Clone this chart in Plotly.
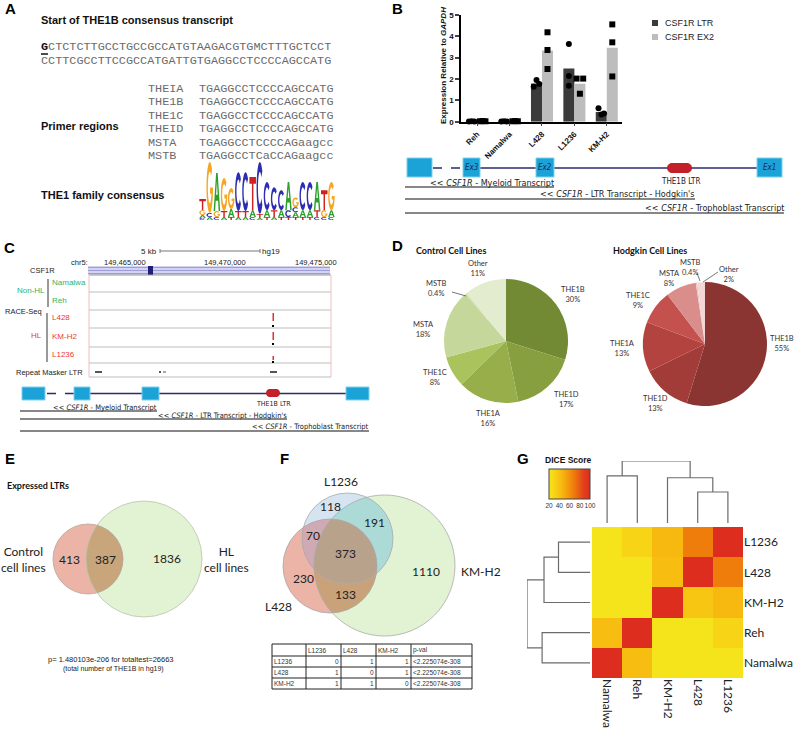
import numpy as np
import plotly.graph_objects as go

W, H = 798, 732
def X(p): return p / W
def Y(p): return 1 - p / H

SANS = "Liberation Sans, Arial, sans-serif"
MONO = "Liberation Mono, Courier New, monospace"
CAL = "Lato, Open Sans, sans-serif"
NARROW = "Liberation Sans Narrow, DejaVu Sans Condensed, sans-serif"

# ======================= DATA =======================
# Panel A
transcript_first = "G"
transcript_rest1 = "CTCTCTTGCCTGCCGCCATGTAAGACGTGMCTTTGCTCCT"
transcript_line2 = "CCTTCGCCTTCCGCCATGATTGTGAGGCCTCCCCAGCCATG"
primer_names = ["THEIA", "THE1B", "THE1C", "THEID", "MSTA", "MSTB"]
primer_seqs = ["TGAGGCCTCCCCAGCCATG", "TGAGGCCTCCCCAGCCATG", "TGAGGCCTCCCCAGCCATG",
               "TGAGGCCTCCCCAGCCATG", "TGAGGCCTCCCCAGaagcc", "TGAGGCCTCaCCAGaagcc"]
# sequence logo: each column bottom -> top, (letter, bits)
logo_columns = [
    [("C", 0.07), ("A", 0.10), ("G", 0.17), ("T", 0.38)],
    [("A", 0.10), ("C", 0.14), ("G", 1.76)],
    [("C", 0.10), ("G", 0.21), ("A", 1.31)],
    [("A", 0.10), ("T", 0.21), ("G", 1.14)],
    [("T", 0.10), ("A", 0.28), ("G", 0.72)],
    [("A", 0.10), ("T", 0.21), ("C", 1.34)],
    [("A", 0.10), ("T", 0.21), ("C", 1.34)],
    [("C", 0.10), ("A", 0.24), ("T", 1.14)],
    [("A", 0.07), ("T", 0.14), ("C", 1.79)],
    [("T", 0.10), ("A", 0.24), ("C", 0.97)],
    [("A", 0.10), ("T", 0.24), ("C", 0.79)],
    [("T", 0.10), ("A", 0.24), ("C", 0.69)],
    [("T", 0.10), ("C", 0.24), ("A", 0.97)],
    [("T", 0.10), ("A", 0.17), ("C", 0.17), ("G", 0.34)],
    [("T", 0.10), ("A", 0.24), ("C", 0.97)],
    [("T", 0.10), ("A", 0.24), ("C", 0.97)],
    [("C", 0.10), ("T", 0.24), ("A", 0.97)],
    [("C", 0.10), ("G", 0.24), ("T", 0.69)],
    [("C", 0.10), ("A", 0.24), ("G", 0.97)],
]

# Panel B
cell_lines_b = ["Reh", "Namalwa", "L428", "L1236", "KM-H2"]
ltr_mean = [0.02, 0.02, 1.79, 2.49, 0.45]
ex2_mean = [0.03, 0.03, 3.34, 1.78, 3.47]
ltr_reps = [[0.01, 0.02, 0.01], [0.01, 0.02, 0.01], [1.64, 1.95, 1.77], [3.64, 2.14, 1.69], [0.63, 0.34, 0.39]]
ex2_reps = [[0.02, 0.03, 0.02], [0.02, 0.03, 0.02], [4.19, 3.36, 2.47], [2.02, 2.02, 1.31], [4.56, 3.72, 2.12]]
series_names = ["CSF1R LTR", "CSF1R EX2"]

# Panel C
track_names = ["Namalwa", "Reh", "L428", "KM-H2", "L1236"]
coord_ticks = ["149,465,000", "149,470,000", "149,475,000"]

# Panel D
pie_labels = ["THE1B", "THE1D", "THE1A", "THE1C", "MSTA", "MSTB", "Other"]
control_pct = [30, 17, 16, 8, 18, 0.4, 11]
hodgkin_pct = [55, 13, 13, 9, 8, 0.4, 2]

# Panel E
venn2_counts = {"control_only": 413, "both": 387, "hl_only": 1836}
venn2_names = ["Control<br>cell lines", "HL<br>cell lines"]

# Panel F
venn3_names = ["L1236", "L428", "KM-H2"]
venn3_counts = {"L1236": 118, "L1236&KM-H2": 191, "L1236&L428": 70, "all": 373,
                "L428": 230, "L428&KM-H2": 133, "KM-H2": 1110}
table_header = ["", "L1236", "L428", "KM-H2", "p-val"]
table_rows = [["L1236", "0", "1", "1", "<2.225074e-308"],
              ["L428", "1", "0", "1", "<2.225074e-308"],
              ["KM-H2", "1", "1", "0", "<2.225074e-308"]]

# Panel G
dice_order = ["Namalwa", "Reh", "KM-H2", "L428", "L1236"]
dice = [[100, 42, 22, 22, 22],
        [42, 100, 22, 22, 30],
        [22, 22, 100, 38, 45],
        [22, 22, 42, 100, 68],
        [22, 30, 45, 68, 100]]
# hierarchical merges: (a, b, height)
dendro_merges = [("L428", "L1236", 0.50), ("KM-H2", "n0", 0.73),
                 ("Namalwa", "Reh", 0.76), ("n2", "n1", 1.0)]

# ======================= HELPERS =======================
shapes, ann = [], []

def T(x, y, s, size=10, color="#222", fam=SANS, xa="center", ya="middle", angle=0, h=None):
    d = dict(x=X(x), y=Y(y), xref="paper", yref="paper", text=s, showarrow=False,
             font=dict(size=size, color=color, family=fam), xanchor=xa, yanchor=ya,
             textangle=angle, borderpad=0, borderwidth=0)
    if h is not None:
        d["height"] = h
    ann.append(d)

def L(x0, y0, x1, y1, color="#000", width=1, dash="solid"):
    shapes.append(dict(type="line", xref="paper", yref="paper", x0=X(x0), y0=Y(y0),
                       x1=X(x1), y1=Y(y1), line=dict(color=color, width=width, dash=dash)))

def R(x0, y0, x1, y1, fill, lc="rgba(0,0,0,0)", lw=0):
    shapes.append(dict(type="rect", xref="paper", yref="paper", x0=X(x0), y0=Y(y0),
                       x1=X(x1), y1=Y(y1), fillcolor=fill, line=dict(color=lc, width=lw)))

def path_str(polys):
    d = ""
    for pts in polys:
        d += "M " + " L ".join(f"{X(px):.5f},{Y(py):.5f}" for px, py in pts) + " Z "
    return d

def P(polys, fill, lc="rgba(0,0,0,0)", lw=0):
    shapes.append(dict(type="path", xref="paper", yref="paper", path=path_str(polys),
                       fillcolor=fill, line=dict(color=lc, width=lw)))

def C(cx, cy, r, fill="rgba(0,0,0,0)", lc="rgba(0,0,0,0)", lw=0):
    shapes.append(dict(type="circle", xref="paper", yref="paper", x0=X(cx - r), x1=X(cx + r),
                       y0=Y(cy + r), y1=Y(cy - r), fillcolor=fill, line=dict(color=lc, width=lw)))

def pill(x0, y0, x1, y1, fill):
    r = (y1 - y0) / 2
    t1 = np.linspace(np.pi / 2, 3 * np.pi / 2, 16)
    t2 = np.linspace(-np.pi / 2, np.pi / 2, 16)
    pts = [(x0 + r + r * np.cos(t), (y0 + y1) / 2 - r * np.sin(t)) for t in t1]
    pts += [(x1 - r + r * np.cos(t), (y0 + y1) / 2 - r * np.sin(t)) for t in t2]
    P([pts], fill)

def ell(a0, a1, rx, ry, n=22):
    t = np.radians(np.linspace(a0, a1, n))
    return list(zip(0.5 + rx * np.cos(t), 0.5 + ry * np.sin(t)))

def glyph(letter):
    if letter == "T":
        return [[(0, 1), (1, 1), (1, 0.8), (0.61, 0.8), (0.61, 0), (0.39, 0), (0.39, 0.8), (0, 0.8)]]
    if letter == "A":
        return [[(0, 0), (0.38, 1), (0.62, 1), (1, 0), (0.77, 0), (0.68, 0.27), (0.32, 0.27), (0.23, 0)],
                [(0.38, 0.43), (0.62, 0.43), (0.5, 0.78)]]
    if letter == "C":
        return [ell(40, 320, 0.5, 0.5) + ell(320, 40, 0.29, 0.31)]
    if letter == "G":
        return [ell(45, 360, 0.5, 0.5) + [(0.55, 0.5), (0.55, 0.38), (0.77, 0.38)] + ell(338, 45, 0.29, 0.31)]

LOGO_COL = {"A": "#2ca02c", "C": "#2d2db4", "G": "#f5a623", "T": "#d02020"}

def circ_pts(c, n=360):
    t = np.linspace(0, 2 * np.pi, n, endpoint=False)
    return np.c_[c[0] + c[2] * np.cos(t), c[1] + c[2] * np.sin(t)]

def inter_poly(circles):
    pts = []
    for i, c in enumerate(circles):
        Pp = circ_pts(c, 720)
        m = np.ones(len(Pp), bool)
        for j, d in enumerate(circles):
            if j != i:
                m &= (Pp[:, 0] - d[0]) ** 2 + (Pp[:, 1] - d[1]) ** 2 <= d[2] ** 2
        pts.append(Pp[m])
    pts = np.vstack(pts)
    cen = pts.mean(0)
    ang = np.arctan2(pts[:, 1] - cen[1], pts[:, 0] - cen[0])
    return [tuple(p) for p in pts[np.argsort(ang)]]

fig = go.Figure()

# ======================= PANEL LETTERS =======================
for lab, (lx, ly) in zip("ABCDEFG", [(10, 9), (397, 9), (9, 247), (397, 245), (10, 458), (284, 458), (523, 458)]):
    T(lx, ly, f"<b>{lab}</b>", 15, "#000", SANS)

# ======================= PANEL A =======================
MS = 11.8
T(41, 20, "<b>Start of THE1B consensus transcript</b>", 11, "#111", SANS, xa="left")
T(41, 47, f'<span style="color:#111"><b>{transcript_first}</b></span>{transcript_rest1}', MS, "#6a6a6a", MONO, xa="left", h=12)
L(41, 54, 48, 54, "#111", 1.5)
T(41, 61, transcript_line2, MS, "#6a6a6a", MONO, xa="left", h=12)
for nm, sq, yy in zip(primer_names, primer_seqs, [88.5, 102, 115.5, 129, 142.5, 156]):
    T(148, yy, nm, MS, "#6a6a6a", MONO, xa="left", h=12)
    T(199, yy, sq, MS, "#6a6a6a", MONO, xa="left", h=12)
T(41, 126, "<b>Primer regions</b>", 11, "#111", SANS, xa="left")
T(41, 195, "<b>THE1 family consensus</b>", 11, "#111", SANS, xa="left")

logo_x0, logo_x1, logo_base, px_bit = 199, 335, 220, 29
cw = (logo_x1 - logo_x0) / len(logo_columns)
for i, col in enumerate(logo_columns):
    xa = logo_x0 + i * cw + 0.3
    xb = xa + cw - 0.6
    yb = logo_base
    for letter, bits in col:
        h = bits * px_bit
        polys = [[(xa + u * (xb - xa), yb - v * h) for u, v in poly] for poly in glyph(letter)]
        P(polys, LOGO_COL[letter])
        yb -= h

# ======================= PANEL B =======================
xB = np.arange(len(cell_lines_b))
off, bw, jit = 0.17, 0.34, 0.085
fig.add_trace(go.Bar(x=xB - off, y=ltr_mean, width=bw, marker=dict(color="#3b3b3b", line=dict(width=0)),
                     name=series_names[0], showlegend=False, xaxis="x", yaxis="y", hoverinfo="skip"))
fig.add_trace(go.Bar(x=xB + off, y=ex2_mean, width=bw, marker=dict(color="#bdbdbd", line=dict(width=0)),
                     name=series_names[1], showlegend=False, xaxis="x", yaxis="y", hoverinfo="skip"))
ltr_jit = [[-1, 0, 1], [-1, 0, 1], [-1, 0, 1], [0, 0, 0], [-1, 0, 1]]
ex2_jit = [[-1, 0, 1], [-1, 0, 1], [0, 0, 0], [-1.2, 1.2, 0], [0, 0, 0]]
px_, py_ = [], []
for i in range(len(xB)):
    for v, j in zip(ltr_reps[i], ltr_jit[i]):
        px_.append(xB[i] - off + j * jit); py_.append(v)
fig.add_trace(go.Scatter(x=px_, y=py_, mode="markers", marker=dict(symbol="circle", size=6, color="#000"),
                         showlegend=False, xaxis="x", yaxis="y", hoverinfo="skip", cliponaxis=False))
px_, py_ = [], []
for i in range(len(xB)):
    for v, j in zip(ex2_reps[i], ex2_jit[i]):
        px_.append(xB[i] + off + j * jit); py_.append(v)
fig.add_trace(go.Scatter(x=px_, y=py_, mode="markers", marker=dict(symbol="square", size=6, color="#000"),
                         showlegend=False, xaxis="x", yaxis="y", hoverinfo="skip", cliponaxis=False))
T(444, 66, "<b>Expression Relative to <i>GAPDH</i></b>", 8, "#111", SANS, angle=-90)
# legend
R(652, 20, 658, 26, "#3b3b3b"); T(665, 23, series_names[0], 9, "#222", SANS, xa="left")
R(652, 34, 658, 40, "#bdbdbd"); T(665, 37, series_names[1], 9, "#222", SANS, xa="left")

NAVY = "#2c2a6c"; EXON = "#1ba3d8"; EXLINE = "#7fd0ee"; LTRC = "#c4202a"
# gene diagram B
L(480, 168, 757, 168, NAVY, 1.5)
L(433, 168, 463, 168, NAVY, 1.5, "dash")
for (x0, x1, lab) in [(407, 432, ""), (463, 480, "Ex3"), (536, 554, "Ex2"), (757, 782, "Ex1")]:
    R(x0, 158, x1, 177, EXON, EXLINE, 1)
    if lab:
        T((x0 + x1) / 2, 167.5, f"<i>{lab}</i>", 8, "#1d2a5a", NARROW)
pill(667, 163, 692, 173, LTRC)
T(680, 181, "THE1B LTR", 8, "#222", NARROW)
T(554, 183, "&lt;&lt; <i>CSF1R</i> - Myeloid Transcript", 9, "#222", NARROW, xa="right")
L(405, 187, 554, 187, "#111", 1.2)
T(695, 194, "&lt;&lt; <i>CSF1R</i> - LTR Transcript - Hodgkin's", 9, "#222", NARROW, xa="right")
L(405, 199, 695, 199, "#111", 1.2)
T(784, 208, "&lt;&lt; <i>CSF1R</i> - Trophoblast Transcript", 9, "#222", NARROW, xa="right")
L(405, 213, 784, 213, "#111", 1.2)

# ======================= PANEL C =======================
T(157, 251, "5 kb", 8, "#222", SANS, xa="right")
L(160, 251, 260, 251, "#777", 1)
L(160, 249, 160, 253, "#777", 1); L(260, 249, 260, 253, "#777", 1)
T(262, 251, "hg19", 8, "#222", SANS, xa="left")
T(88, 262, "chr5:", 7.5, "#222", SANS, xa="right")
for s, cx in zip(coord_ticks, [125, 225, 316]):
    T(cx, 262, s, 7.5, "#222", SANS)
T(55, 270, "CSF1R", 7.5, "#222", SANS, xa="right")
R(88, 266, 330, 275, "#d4d4f2")
for yy in [267.5, 270.5, 273.5]:
    L(88, yy, 330, yy, "#8f8fd2", 0.8)
R(148, 266, 153, 275, "#1f1f7a")
# track box
rows_y = [275, 292, 310, 328, 347, 363, 377]
for yy in rows_y[1:]:
    L(89, yy, 331, yy, "#bdbdbd", 1)
L(89, 275, 331, 275, "#9a9a9a", 1)
L(89, 275, 89, 377, "#f0c0c0", 1)
L(331, 275, 331, 377, "#f0c0c0", 1)
GREEN = "#2db36b"; RED = "#ec3a2f"
for nm, yy in zip(track_names, [283, 300, 318, 336, 354]):
    T(52, yy, nm, 8, GREEN if nm in ("Namalwa", "Reh") else RED, SANS, xa="left")
T(45, 290, "Non-HL", 8, GREEN, SANS, xa="right")
L(48, 279, 48, 307, "#333", 1)
T(23, 311, "RACE-Seq", 7.5, "#222", SANS)
L(47, 313, 47, 362, "#999", 2)
T(42, 335, "HL", 8, RED, SANS, xa="right")
T(83, 372, "Repeat Masker LTR", 7.5, "#222", SANS, xa="right")
R(95, 371, 102, 373, "#555"); R(159, 371, 161, 373, "#555"); R(163, 371, 166, 373, "#aaa"); R(270, 371, 277, 373, "#555")
for (a, b, d) in [(313, 321, 326), (332, 340, 344), (356, 360, 362)]:
    R(272.5, a, 274, b, "#e8302a")
    R(272, d - 1, 274, d + 1, "#000")
# gene diagram C
L(90, 393.5, 346, 393.5, NAVY, 1.5)
L(47, 393.5, 74, 393.5, NAVY, 1.5, "dash")
for (x0, x1) in [(22, 45), (74, 90), (142, 159), (346, 369)]:
    R(x0, 387, x1, 400, EXON, EXLINE, 1)
pill(266, 389, 280, 397, LTRC)
T(273, 404, "THE1B LTR", 7, "#222", NARROW)
T(157, 407, "&lt;&lt; <i>CSF1R</i> - Myeloid Transcript", 7.5, "#222", NARROW, xa="right")
L(20, 411, 157, 411, "#111", 1.2)
T(287, 415, "&lt;&lt; <i>CSF1R</i> - LTR Transcript - Hodgkin's", 7.5, "#222", NARROW, xa="right")
L(20, 419, 287, 419, "#111", 1.2)
T(369, 426, "&lt;&lt; <i>CSF1R</i> - Trophoblast Transcript", 7.5, "#222", NARROW, xa="right")
L(20, 431, 369, 431, "#111", 1.2)

# ======================= PANEL D =======================
control_colors = ["#728a33", "#889f40", "#97ae4a", "#aac35c", "#c6d79b", "#d3dfae", "#e4ecd0"]
hodgkin_colors = ["#8b3532", "#a23c39", "#b3433f", "#c4514d", "#d98e8b", "#ecc6c5", "#f2d7d6"]
T(416, 250, "<b>Control Cell Lines</b>", 9, "#111", CAL, xa="left")
T(613, 250, "<b>Hodgkin Cell Lines</b>", 9, "#111", CAL, xa="left")
for vals, cols, (cx, cy) in [(control_pct, control_colors, (506, 341)), (hodgkin_pct, hodgkin_colors, (705, 344))]:
    r = 62
    fig.add_trace(go.Pie(values=vals, labels=pie_labels, marker=dict(colors=cols, line=dict(width=0)),
                         sort=False, direction="clockwise", rotation=0, textinfo="none", hoverinfo="skip",
                         showlegend=False, domain=dict(x=[X(cx - r), X(cx + r)], y=[Y(cy + r), Y(cy - r)])))
ctrl_lab_pos = [(573, 295), (566, 399), (488, 418), (435, 377), (423, 330), (436, 288), (478, 268)]
hodg_lab_pos = [(782, 343), (655, 404), (622, 348), (638, 300), (669, 278), (690, 267), (729, 275)]
for lab, v, (lx, ly) in zip(pie_labels, control_pct, ctrl_lab_pos):
    T(lx, ly, f"{lab}<br>{v:g}%", 7.5, "#333", CAL)
for lab, v, (lx, ly) in zip(pie_labels, hodgkin_pct, hodg_lab_pos):
    T(lx, ly, f"{lab}<br>{v:g}%", 7.5, "#333", CAL)
L(452, 292, 466, 296, "#555", 0.8)
L(718, 272, 703, 282, "#555", 0.8)
L(697, 273, 700, 281, "#555", 0.8)

# ======================= PANEL E =======================
T(7, 485, "<b>Expressed LTRs</b>", 9, "#111", CAL, xa="left")
ce_r = (88, 559, 35); ce_g = (144, 559, 58)
C(*ce_r, fill="#ebb4a6")
C(*ce_g, fill="#e2f3d4")
P([inter_poly([ce_r, ce_g])], "#c9a57c")
C(*ce_r, lc="#b5a59a", lw=0.8); C(*ce_g, lc="#b8c4ad", lw=0.8)
T(69, 559, str(venn2_counts["control_only"]), 12, "#222", CAL)
T(105, 559, str(venn2_counts["both"]), 12, "#222", CAL)
T(167, 558, str(venn2_counts["hl_only"]), 12, "#222", CAL)
T(23, 559, venn2_names[0], 12, "#222", CAL)
T(226, 559, venn2_names[1], 12, "#222", CAL)
T(111, 659, "p= 1.480103e-206 for totaltest=26663", 7.5, "#222", SANS)
T(113, 669, "(total number of THE1B in hg19)", 7, "#222", SANS)

# ======================= PANEL F =======================
cb = (347.5, 538.5, 45.5); cr = (330, 566, 47); cg = (384.5, 565.5, 70.5)
C(*cg, fill="#e2f3d4"); C(*cb, fill="#d6e4f2"); C(*cr, fill="#ebb4a6")
P([inter_poly([cr, cg])], "#caa279")
P([inter_poly([cb, cg])], "#acdad6")
P([inter_poly([cr, cb])], "#cfa9b3")
P([inter_poly([cr, cb, cg])], "#b9a28c")
for c in (cg, cb, cr):
    C(*c, lc="#a9a9a9", lw=0.8)
T(341, 481, venn3_names[0], 12, "#222", CAL)
T(278, 606, venn3_names[1], 12, "#222", CAL)
T(481, 571, venn3_names[2], 12, "#222", CAL)
for key, (lx, ly) in {"L1236": (330, 506), "L1236&KM-H2": (374, 522), "L1236&L428": (313, 535),
                      "all": (345, 553), "L428": (303, 578), "L428&KM-H2": (345, 594),
                      "KM-H2": (426, 571)}.items():
    T(lx, ly, str(venn3_counts[key]), 12, "#222", CAL)
# table
col_edges = [272, 306, 341, 376, 411, 472]
row_edges = [644, 656, 667, 678, 689]
for xx in col_edges:
    L(xx, row_edges[0], xx, row_edges[-1], "#222", 1)
for yy in row_edges:
    L(col_edges[0], yy, col_edges[-1], yy, "#222", 1)
for j, htxt in enumerate(table_header):
    if htxt:
        T(col_edges[j] + 2, (row_edges[0] + row_edges[1]) / 2, htxt, 6.5, "#333", SANS, xa="left")
for i, row in enumerate(table_rows):
    yc = (row_edges[i + 1] + row_edges[i + 2]) / 2
    for j, cell in enumerate(row):
        cell = cell.replace("<", "&lt;")
        if j in (0, 4):
            T(col_edges[j] + 2, yc, cell, 6.5, "#333", SANS, xa="left")
        else:
            T(col_edges[j + 1] - 2, yc, cell, 6.5, "#333", SANS, xa="right")

# ======================= PANEL G =======================
heat_scale = [[0.0, "#f5e61c"], [0.15, "#f7d215"], [0.33, "#f7b50f"], [0.6, "#ef7d0c"],
              [0.85, "#e1401b"], [1.0, "#dc2d1f"]]
idx = list(range(len(dice_order)))
fig.add_trace(go.Heatmap(z=dice, x=idx, y=idx, colorscale=heat_scale, zmin=20, zmax=100,
                         xaxis="x2", yaxis="y2", hoverinfo="skip", xgap=0, ygap=0,
                         colorbar=dict(orientation="h", x=X(569.5), xanchor="center", y=Y(469), yanchor="top",
                                       len=41, lenmode="pixels", thickness=30, thicknessmode="pixels",
                                       xpad=0, ypad=0, outlinewidth=1, outlinecolor="#444",
                                       tickvals=[20, 40, 60, 80, 100], ticks="", tickangle=0,
                                       tickfont=dict(size=6.5, family=SANS, color="#333"))))
T(545, 460, "<b>DICE Score</b>", 8.5, "#111", SANS, xa="left")

# dendrogram from merges
pos = {n: i for i, n in enumerate(dice_order)}
hgt = {n: 0.0 for n in dice_order}
segs_x, segs_y = [], []
for k, (a, b, h) in enumerate(dendro_merges):
    pa, pb = pos[a], pos[b]
    segs_x += [pa, pa, pb, pb, None]
    segs_y += [hgt[a], h, h, hgt[b], None]
    pos[f"n{k}"] = (pa + pb) / 2
    hgt[f"n{k}"] = h
fig.add_trace(go.Scatter(x=segs_x, y=segs_y, mode="lines", line=dict(color="#6b6b6b", width=1.2),
                         xaxis="x3", yaxis="y3", showlegend=False, hoverinfo="skip"))
fig.add_trace(go.Scatter(x=segs_y, y=segs_x, mode="lines", line=dict(color="#6b6b6b", width=1.2),
                         xaxis="x4", yaxis="y4", showlegend=False, hoverinfo="skip"))

hx = [X(592), X(743)]
hy = [Y(678), Y(527)]
fig.update_layout(
    width=W, height=H, margin=dict(l=0, r=0, t=0, b=0), template="none",
    paper_bgcolor="white", plot_bgcolor="rgba(0,0,0,0)", showlegend=False,
    font=dict(family=SANS, color="#222"),
    barmode="overlay",
    xaxis=dict(domain=[X(461), X(622)], range=[-0.5, 4.47], tickvals=list(xB), ticktext=cell_lines_b,
               tickangle=-45, tickfont=dict(size=8, family=SANS, color="#111", weight="bold"),
               showline=True, linecolor="#000", linewidth=1.5, ticks="outside", ticklen=3, tickwidth=1.2,
               showgrid=False, zeroline=False, anchor="y", automargin=False, fixedrange=True),
    yaxis=dict(domain=[Y(121.7), Y(15)], range=[0, 5], tickvals=[0, 1, 2, 3, 4, 5],
               tickfont=dict(size=8, family=SANS, color="#111", weight="bold"),
               showline=True, linecolor="#000", linewidth=1.5, ticks="outside", ticklen=4, tickwidth=1.5,
               showgrid=False, zeroline=False, anchor="x", automargin=False),
    xaxis2=dict(domain=hx, range=[-0.5, 4.5], tickvals=idx, ticktext=dice_order, tickangle=90,
                tickfont=dict(size=12, family=CAL, color="#222"), showline=False, ticks="",
                showgrid=False, zeroline=False, anchor="y2", automargin=False),
    yaxis2=dict(domain=hy, range=[-0.5, 4.5], tickvals=idx, ticktext=dice_order, side="right",
                tickfont=dict(size=12, family=CAL, color="#222"), showline=False, ticks="",
                showgrid=False, zeroline=False, anchor="x2", automargin=False),
    xaxis3=dict(domain=hx, range=[-0.5, 4.5], visible=False, anchor="y3"),
    yaxis3=dict(domain=[Y(523), Y(461)], range=[0, 1], visible=False, anchor="x3"),
    xaxis4=dict(domain=[X(527), X(590)], range=[1, 0], visible=False, anchor="y4"),
    yaxis4=dict(domain=hy, range=[-0.5, 4.5], visible=False, anchor="x4"),
    shapes=shapes, annotations=ann,
)
fig.write_html("out.html", config={"displayModeBar": False},
               post_script="document.body.style.margin='0px';document.body.style.overflow='hidden';")
